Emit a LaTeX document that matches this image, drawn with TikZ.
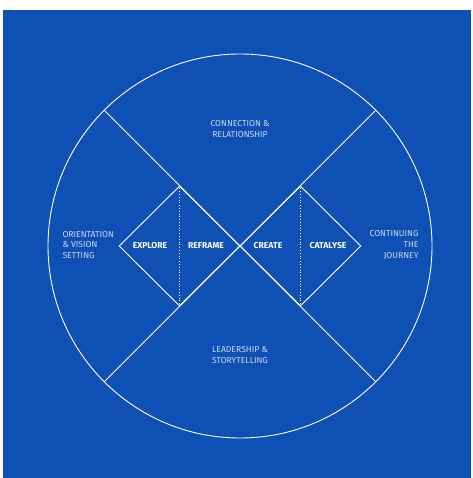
\documentclass[tikz,border=0pt]{standalone}
\usepackage{fontspec}
\setmainfont{Fira Sans}
\usetikzlibrary{positioning,shapes.geometric}
\definecolor{bgblue}{HTML}{0E50B4}
\definecolor{softwhite}{HTML}{CDD8F2}

\begin{document}
\begin{tikzpicture}[
x = 1pt, y = 1pt,
every node/.style = {
	font = \fontsize{8.6}{10.8}\selectfont
},
ring/.style = {
	draw = white,
	circle,
	minimum size = 384pt,
	inner sep = 0pt,
	line width = 0.9pt
},
phase/.style = {
	draw = white,
	diamond,
	minimum width = 121pt,
	minimum height = 120pt,
	inner sep = 0pt,
	line width = 0.9pt
},
stage/.style = {
	text = white,
	font = \fontsize{8.6}{10.8}\selectfont\bfseries
},
region/.style = {
	text = softwhite,
	align = center
},
divider/.style = {
	draw = white,
	line width = 0.9pt
},
split/.style = {
	draw = white,
	line width = 0.8pt,
	dotted
}
]

\useasboundingbox (0,0) rectangle (472,478);
\fill[bgblue] (3,0) rectangle (471,468);

\node [ring] (wheel) at (240,232) {};

\node [phase] (diverge) at (179.5,232) {};
\node [phase] (converge) at (300.5,232) {};

\draw[divider] (wheel.135) -- (wheel.-45);
\draw[divider] (wheel.45) -- (wheel.-135);

\draw[split] (diverge.north) -- (diverge.south);
\draw[split] (converge.north) -- (converge.south);

\node [stage] (explore) at (150,232) {EXPLORE};
\node [stage] (reframe) at (206,232) {REFRAME};
\node [stage] (create) at (268,232) {CREATE};
\node [stage] (catalyse) at (328,232) {CATALYSE};

\node [region] (connect) at (240,349) {CONNECTION \&\\RELATIONSHIP};
\node [region] (lead) at (240,123) {LEADERSHIP \&\\STORYTELLING};
\node [region, align = left, anchor = west] (orient) at (59,233) {ORIENTATION\\\& VISION\\SETTING};
\node [region, align = right, anchor = east] (journey) at (422,233) {CONTINUING\\THE\\JOURNEY};

\end{tikzpicture}
\end{document}
